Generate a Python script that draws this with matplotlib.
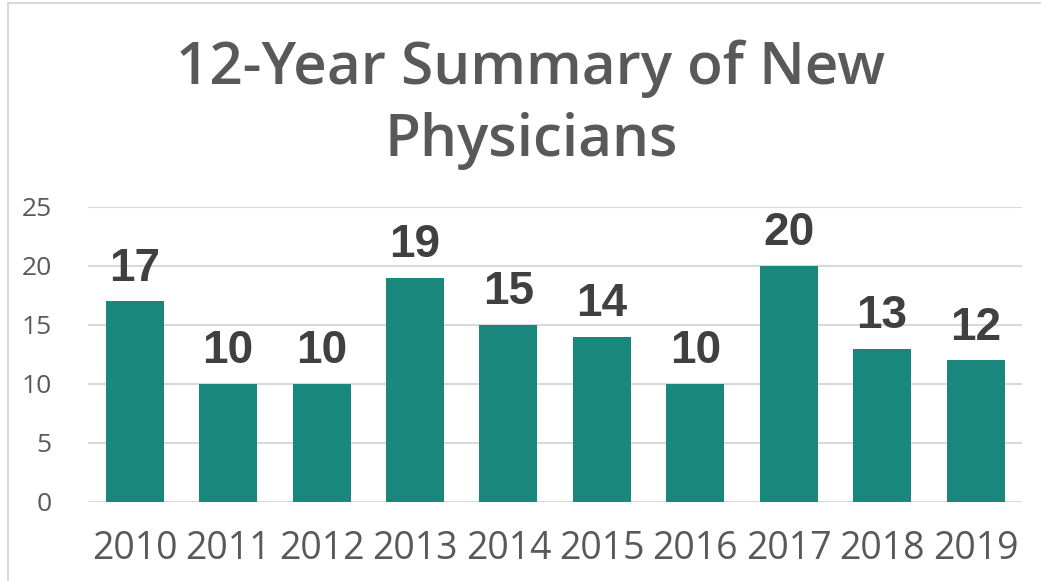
import matplotlib.pyplot as plt
from matplotlib.patches import Rectangle

# Datos
years = ['2010', '2011', '2012', '2013', '2014', '2015', '2016', '2017', '2018', '2019']
physicians = [17, 10, 10, 19, 15, 14, 10, 20, 13, 12]

fig = plt.figure(figsize=(10.41, 5.81), dpi=100)
ax = fig.add_axes([0.0845, 0.136, 0.8975, 0.508])

bars = ax.bar(years, physicians, width=0.62, color='#1a877c', zorder=3)

# Etiquetas de datos
for rect, v in zip(bars, physicians):
    ax.text(rect.get_x() + rect.get_width() / 2, v + 0.9, str(v),
            ha='center', va='bottom', fontsize=33, fontweight='bold',
            family='Liberation Sans', color='#404040')

ax.set_ylim(0, 25)
ax.set_xlim(-0.5, 9.5)
ax.set_yticks(range(0, 26, 5))
ax.grid(axis='y', color='#d9d9d9', linewidth=1.5, zorder=0)
for s in ax.spines.values():
    s.set_visible(False)
ax.tick_params(length=0)
ax.tick_params(axis='y', labelsize=19, labelcolor='#595959', pad=26)
ax.tick_params(axis='x', labelsize=27, labelcolor='#595959', pad=20)
for lab in ax.get_xticklabels() + ax.get_yticklabels():
    lab.set_family('Open Sans')

# Título
fig.text(0.51, 0.82, '12-Year Summary of New\nPhysicians', ha='center', va='center',
         fontsize=42, fontweight='semibold', color='#595959', family='Open Sans',
         linespacing=1.33)

# Borde del gráfico
fig.patches.append(Rectangle((0.008, -0.01), 1.1, 1.005, transform=fig.transFigure,
                             fill=False, edgecolor='#d9d9d9', linewidth=1.5))

fig.savefig('out.png', dpi=100)
